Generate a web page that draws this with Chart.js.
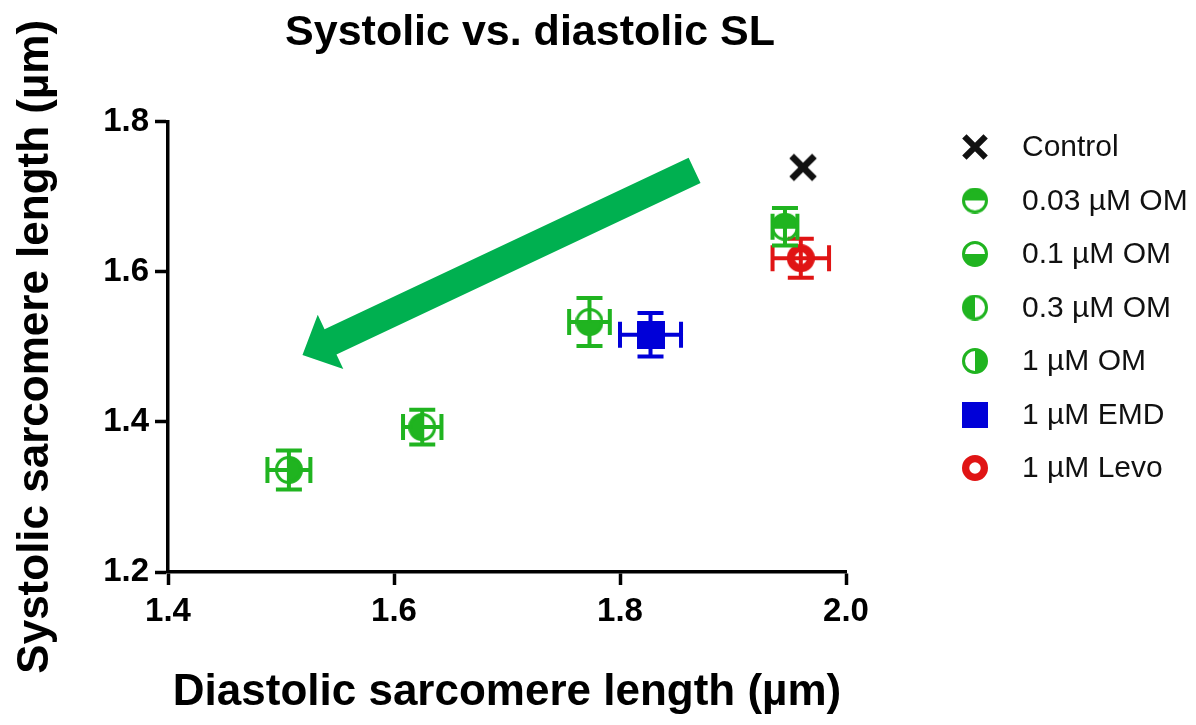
<!DOCTYPE html>
<html>
<head>
<meta charset="utf-8">
<title>Systolic vs. diastolic SL</title>
<script src="https://cdn.jsdelivr.net/npm/chart.js@4.4.1/dist/chart.umd.min.js"></script>
<style>
  html, body { margin: 0; padding: 0; background: #ffffff; }
  #wrap { width: 1196px; height: 725px; }
</style>
</head>
<body>
<div id="wrap"><canvas id="chart" width="1196" height="725"></canvas></div>
<script>
// ---- data -------------------------------------------------------------
const groups = ['Control', '0.03 µM OM', '0.1 µM OM', '0.3 µM OM', '1 µM OM', '1 µM EMD', '1 µM Levo'];
const diastolicSL = [1.962, 1.946, 1.773, 1.625, 1.507, 1.827, 1.960];   // µm, x
const systolicSL  = [1.739, 1.660, 1.533, 1.393, 1.336, 1.516, 1.618];   // µm, y
const diastolicSEM = [0, 0.011, 0.018, 0.017, 0.019, 0.027, 0.025];
const systolicSEM  = [0, 0.025, 0.032, 0.023, 0.026, 0.029, 0.026];
const xTicks = [1.4, 1.6, 1.8, 2.0];
const yTicks = [1.2, 1.4, 1.6, 1.8];
// trend arrow, in axis units: [diastolic, systolic]
const arrowFrom = [1.866, 1.735];
const arrowTo   = [1.519, 1.489];

// ---- styling ----------------------------------------------------------
const FONT = "'Liberation Sans', Arial, Helvetica, sans-serif";
const GREEN = '#20b420', BLUE = '#0000d8', RED = '#e01414', ARROW_GREEN = '#00b050';
const markerKinds  = ['cross', 'halfTop', 'halfBottom', 'halfLeft', 'halfRight', 'square', 'ring'];
const markerColors = ['#111111', GREEN, GREEN, GREEN, GREEN, BLUE, RED];

function makeMarker(kind, color, size) {
  const c = document.createElement('canvas');
  c.width = size; c.height = size;
  const g = c.getContext('2d');
  const m = size / 2;
  g.strokeStyle = color; g.fillStyle = color;
  if (kind === 'cross') {
    const d = size * 0.38;
    g.lineWidth = size * 0.22;
    g.lineCap = 'butt';
    g.beginPath();
    g.moveTo(m - d, m - d); g.lineTo(m + d, m + d);
    g.moveTo(m + d, m - d); g.lineTo(m - d, m + d);
    g.stroke();
  } else if (kind === 'square') {
    g.fillRect(0, 0, size, size);
  } else if (kind === 'ring') {
    const lw = size * 0.28;
    g.lineWidth = lw;
    g.beginPath(); g.arc(m, m, m - lw / 2, 0, Math.PI * 2); g.stroke();
  } else {
    const lw = 3;
    const r = m - lw / 2;
    const spans = {
      halfTop: [Math.PI, Math.PI * 2],
      halfBottom: [0, Math.PI],
      halfLeft: [Math.PI / 2, Math.PI * 1.5],
      halfRight: [-Math.PI / 2, Math.PI / 2]
    }[kind];
    g.beginPath(); g.arc(m, m, r, spans[0], spans[1]); g.closePath(); g.fill();
    g.lineWidth = lw;
    g.beginPath(); g.arc(m, m, r, 0, Math.PI * 2); g.stroke();
  }
  return c;
}

const pointMarks  = markerKinds.map((k, i) => makeMarker(k, markerColors[i], k === 'cross' ? 30 : 28));
const legendMarks = markerKinds.map((k, i) => makeMarker(k, markerColors[i], k === 'cross' ? 28 : 26));

// ---- layout constants -------------------------------------------------
const TITLE_CENTER_X = 530;
const LEGEND = { markerX: 975, textX: 1022, top: 147, step: 53.5, font: '30px ' + FONT };

// ---- plugins ----------------------------------------------------------
const errorBars = {
  id: 'errorBars',
  beforeDatasetDraw(chart, args) {
    const ds = chart.data.datasets[args.index];
    const xs = chart.scales.x, ys = chart.scales.y, ctx = chart.ctx;
    const cap = 13;
    ctx.save();
    ctx.strokeStyle = ds.barColor;
    ctx.lineWidth = 4;
    ds.data.forEach(p => {
      const cx = xs.getPixelForValue(p.x), cy = ys.getPixelForValue(p.y);
      if (ds.errX > 0) {
        const xl = xs.getPixelForValue(p.x - ds.errX), xr = xs.getPixelForValue(p.x + ds.errX);
        ctx.beginPath();
        ctx.moveTo(xl, cy); ctx.lineTo(xr, cy);
        ctx.moveTo(xl, cy - cap); ctx.lineTo(xl, cy + cap);
        ctx.moveTo(xr, cy - cap); ctx.lineTo(xr, cy + cap);
        ctx.stroke();
      }
      if (ds.errY > 0) {
        const yt = ys.getPixelForValue(p.y + ds.errY), yb = ys.getPixelForValue(p.y - ds.errY);
        ctx.beginPath();
        ctx.moveTo(cx, yt); ctx.lineTo(cx, yb);
        ctx.moveTo(cx - cap, yt); ctx.lineTo(cx + cap, yt);
        ctx.moveTo(cx - cap, yb); ctx.lineTo(cx + cap, yb);
        ctx.stroke();
      }
    });
    ctx.restore();
  }
};

const trendArrow = {
  id: 'trendArrow',
  afterDatasetsDraw(chart) {
    const xs = chart.scales.x, ys = chart.scales.y, ctx = chart.ctx;
    const x0 = xs.getPixelForValue(arrowFrom[0]), y0 = ys.getPixelForValue(arrowFrom[1]);
    const x1 = xs.getPixelForValue(arrowTo[0]),   y1 = ys.getPixelForValue(arrowTo[1]);
    const len = Math.hypot(x1 - x0, y1 - y0);
    const ux = (x1 - x0) / len, uy = (y1 - y0) / len;
    const nx = -uy, ny = ux;
    const shaft = 14, headW = 30, headL = 31;
    const bx = x1 - ux * headL, by = y1 - uy * headL;
    ctx.save();
    ctx.fillStyle = ARROW_GREEN;
    ctx.beginPath();
    ctx.moveTo(x0 + nx * shaft, y0 + ny * shaft);
    ctx.lineTo(bx + nx * shaft, by + ny * shaft);
    ctx.lineTo(bx + nx * headW, by + ny * headW);
    ctx.lineTo(x1, y1);
    ctx.lineTo(bx - nx * headW, by - ny * headW);
    ctx.lineTo(bx - nx * shaft, by - ny * shaft);
    ctx.lineTo(x0 - nx * shaft, y0 - ny * shaft);
    ctx.closePath();
    ctx.fill();
    ctx.restore();
  }
};

const sideLegend = {
  id: 'sideLegend',
  afterDraw(chart) {
    const ctx = chart.ctx;
    ctx.save();
    ctx.font = LEGEND.font;
    ctx.fillStyle = '#111111';
    ctx.textBaseline = 'middle';
    ctx.textAlign = 'left';
    chart.data.datasets.forEach((ds, i) => {
      const y = LEGEND.top + i * LEGEND.step;
      const img = legendMarks[i];
      ctx.drawImage(img, LEGEND.markerX - img.width / 2, y - img.height / 2);
      ctx.fillText(ds.label, LEGEND.textX, y + 1);
    });
    ctx.restore();
  }
};

const titlePlacement = {
  id: 'titlePlacement',
  afterLayout(chart) {
    const t = chart.titleBlock;
    const half = (t.right - t.left) / 2;
    t.left = TITLE_CENTER_X - half;
    t.right = TITLE_CENTER_X + half;
  }
};

// ---- chart ------------------------------------------------------------
Chart.defaults.font.family = FONT;
Chart.defaults.color = '#000000';

const datasets = groups.map((name, i) => ({
  label: name,
  data: [{ x: diastolicSL[i], y: systolicSL[i] }],
  pointStyle: pointMarks[i],
  pointRadius: 14,
  pointHoverRadius: 14,
  errX: diastolicSEM[i],
  errY: systolicSEM[i],
  barColor: markerColors[i]
}));

const tickFont = { size: 33, weight: 'bold' };
const axisTitleFont = { size: 44, weight: 'bold' };
const axisGrid = { display: true, drawOnChartArea: false, drawTicks: true, tickLength: 13, tickWidth: 3.5, tickColor: '#000' };
const axisBorder = { display: true, color: '#000', width: 3.5 };

new Chart(document.getElementById('chart'), {
  type: 'scatter',
  data: { datasets },
  options: {
    responsive: false,
    animation: false,
    devicePixelRatio: 1,
    layout: { padding: { left: 0, right: 350, top: 0, bottom: 0 } },
    plugins: {
      legend: { display: false },
      tooltip: { enabled: false },
      title: {
        display: true,
        text: 'Systolic vs. diastolic SL',
        font: { size: 43, weight: 'bold' },
        color: '#000',
        padding: { top: 7, bottom: 63 }
      }
    },
    scales: {
      x: {
        type: 'linear',
        position: 'bottom',
        min: xTicks[0],
        max: xTicks[xTicks.length - 1],
        afterBuildTicks(s) { s.ticks = xTicks.map(v => ({ value: v })); },
        ticks: { callback: v => v.toFixed(1), font: tickFont, color: '#000', padding: 7, maxRotation: 0 },
        grid: axisGrid,
        border: axisBorder,
        title: { display: true, text: 'Diastolic sarcomere length (µm)', font: axisTitleFont, color: '#000', padding: { top: 0, bottom: 6 } },
        afterFit(s) { s.height = 153; s.paddingLeft = 0; s.paddingRight = 0; }
      },
      y: {
        type: 'linear',
        position: 'left',
        min: yTicks[0],
        max: yTicks[yTicks.length - 1],
        afterBuildTicks(s) { s.ticks = yTicks.map(v => ({ value: v })); },
        ticks: { callback: v => v.toFixed(1), font: tickFont, color: '#000', padding: 6 },
        grid: axisGrid,
        border: axisBorder,
        title: { display: true, text: 'Systolic sarcomere length (µm)', font: axisTitleFont, color: '#000', padding: { top: 9, bottom: 0 } },
        afterFit(s) { s.width = 168; s.paddingTop = 0; s.paddingBottom = 0; }
      }
    }
  },
  plugins: [errorBars, trendArrow, sideLegend, titlePlacement]
});
</script>
</body>
</html>
